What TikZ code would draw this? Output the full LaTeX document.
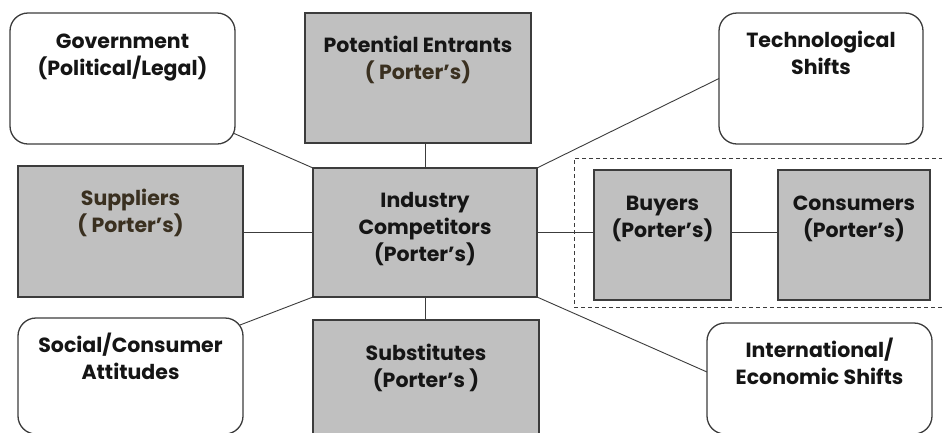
\documentclass[tikz,border=0pt]{standalone}
\usepackage{fontspec}
\setmainfont{Poppins}
\usetikzlibrary{calc}
\definecolor{boxgray}{HTML}{C0C0C0}
\definecolor{edge}{HTML}{3C3C3C}
\definecolor{ink}{HTML}{151515}
\definecolor{brownink}{HTML}{3A3020}
\begin{document}
\begin{tikzpicture}[x=1pt,y=-1pt,
  box/.style={draw=edge, line width=1.3pt, inner sep=0pt, outer sep=0pt},
  graybox/.style={box, fill=boxgray},
  roundbox/.style={box, fill=white, rounded corners=18pt},
  boxtext/.style={font=\bfseries\fontsize{20.5}{27}\selectfont, text=ink, align=center, anchor=base, inner sep=0pt},
  link/.style={draw=edge, line width=0.9pt},
]
\clip (0,0) rectangle (942,432);
\fill[white] (0,0) rectangle (942,432);

% market group frame
\node[draw=edge, line width=1pt, dash pattern=on 4pt off 3pt, minimum width=376pt, minimum height=149pt, inner sep=0pt] (market) at (762,232.5) {};

% boxes
\node[roundbox, minimum width=225pt, minimum height=131pt] (gov)  at (122.5,78.5) {};
\node[graybox,  minimum width=226pt, minimum height=130pt] (pe)   at (418,78) {};
\node[roundbox, minimum width=204pt, minimum height=131pt] (tech) at (821,78.5) {};
\node[graybox,  minimum width=225pt, minimum height=131pt] (sup)  at (130.5,231.5) {};
\node[graybox,  minimum width=224pt, minimum height=129pt] (ic)   at (425,232.5) {};
\node[graybox,  minimum width=137pt, minimum height=130pt] (buy)  at (662.5,235) {};
\node[graybox,  minimum width=152pt, minimum height=130pt] (con)  at (854,235) {};
\node[roundbox, minimum width=225pt, minimum height=116pt] (soc)  at (130.5,376) {};
\node[graybox,  minimum width=226pt, minimum height=114pt] (sub)  at (426,377) {};
\node[roundbox, minimum width=225pt, minimum height=111pt] (intl) at (819.5,378.5) {};

% texts (anchored at the baseline of their last line)
\node[boxtext] (govt)  at ($(gov.north)+(0,35+27)$)  {Government\\(Political/Legal)};
\node[boxtext] (pet)   at ($(pe.north)+(0,39+27)$)   {Potential Entrants\\{\color{brownink}( Porter’s)}};
\node[boxtext] (techt) at ($(tech.north)+(0,34+27)$) {Technological\\Shifts};
\node[boxtext, text=brownink] (supt) at ($(sup.north)+(0,39+27)$) {Suppliers\\( Porter’s)};
\node[boxtext] (ict)   at ($(ic.north)+(0,39+54)$)   {Industry\\Competitors\\(Porter’s)};
\node[boxtext] (buyt)  at ($(buy.north)+(0,40+27)$)  {Buyers\\(Porter’s)};
\node[boxtext] (cont)  at ($(con.north)+(0,40+27)$)  {Consumers\\(Porter’s)};
\node[boxtext] (soct)  at ($(soc.north)+(0,34+27)$)  {Social/Consumer\\Attitudes};
\node[boxtext] (subt)  at ($(sub.north)+(0,40+27)$)  {Substitutes\\(Porter’s )};
\node[boxtext] (intlt) at ($(intl.north)+(0,34+27)$) {International/\\Economic Shifts};

% connectors
\draw[link] ($(gov.south east)+(-2,-11)$) -- (ic.north west);
\draw[link] (ic.north) -- (ic.north |- pe.south);
\draw[link] (tech.west) -- (ic.north east);
\draw[link] (ic.west) -- (ic.west -| sup.east);
\draw[link] ($(soc.north east)+(-3,7)$) -- (ic.south west);
\draw[link] (ic.south) -- (ic.south |- sub.north);
\draw[link] (ic.east) -- (ic.east -| buy.west);
\draw[link] ($(buy.east)+(0,-3)$) -- ($(con.west)+(0,-3)$);
\draw[link] (ic.south east) -- ($(intl.north west)+(0,49)$);
\end{tikzpicture}
\end{document}
